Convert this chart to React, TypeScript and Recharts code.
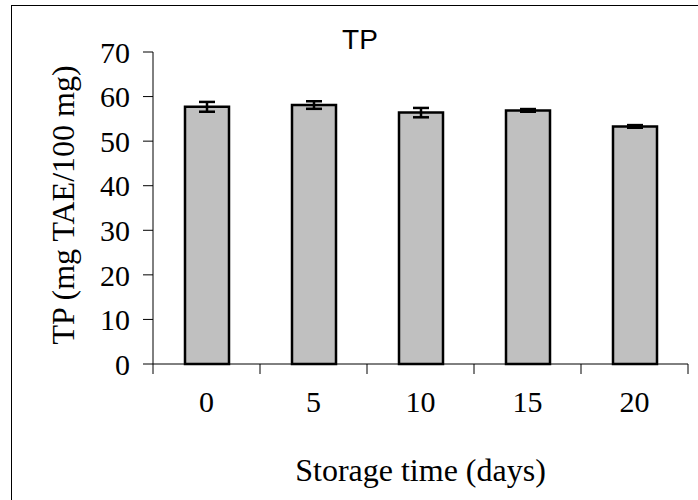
// TP bar chart - storage time vs total phenolics, with SD error bars
import { BarChart, Bar, XAxis, YAxis, ErrorBar } from 'recharts'

const days = ['0', '5', '10', '15', '20']
const tpMeans = [57.7, 58.1, 56.4, 56.9, 53.3]
const tpErrors = [1.1, 0.85, 1.05, 0.3, 0.3]
const yTicks = [0, 10, 20, 30, 40, 50, 60, 70]

const data = days.map((d, i) => ({ day: d, tp: tpMeans[i], err: tpErrors[i] }))

const serif = '"Liberation Serif", "Times New Roman", serif'
const sans = '"Liberation Sans", Arial, sans-serif'

// category tick: label in the middle of the band, tick marks on the band edges (Excel style)
function DayTick(props: any) {
  const { x, y, payload, index, width, visibleTicksCount } = props
  const half = payload.offset || width / visibleTicksCount / 2
  const top = y - 17
  return (
    <g>
      <line x1={x - half} y1={top - 10} x2={x - half} y2={top} stroke="#000" strokeWidth={1} />
      {index === visibleTicksCount - 1 && (
        <line x1={x + half} y1={top - 10} x2={x + half} y2={top} stroke="#000" strokeWidth={1} />
      )}
      <text x={x} y={y} dy="0.71em" textAnchor="middle" fontSize={30} fontFamily={serif} fill="#000">
        {payload.value}
      </text>
    </g>
  )
}

export default function App() {
  return (
    <div style={{ position: 'absolute', left: 0, top: 0, width: 698, height: 500, overflow: 'hidden', background: '#fff' }}>
      <div style={{ position: 'absolute', left: 11, top: 5, width: 720, height: 540, border: '1.5px solid #000' }} />
      <BarChart width={698} height={500} data={data} margin={{ top: 52, right: 10, bottom: 0, left: 0 }}>
        <XAxis
          dataKey="day"
          height={136}
          tickLine={false}
          tickSize={10}
          tickMargin={17}
          axisLine={{ stroke: '#000', strokeWidth: 1 }}
          tick={<DayTick />}
          interval={0}
          label={(p: any) => {
            const vb = p.viewBox
            return (
              <text x={vb.x + vb.width / 2} y={481} textAnchor="middle" fontSize={32} fontFamily={serif} fill="#000">
                Storage time (days)
              </text>
            )
          }}
        />
        <YAxis
          width={153}
          domain={[0, 70]}
          ticks={yTicks}
          interval={0}
          tickSize={10}
          tickMargin={13}
          axisLine={{ stroke: '#000', strokeWidth: 1 }}
          tickLine={{ stroke: '#000', strokeWidth: 1 }}
          tick={{ fontSize: 30, fontFamily: serif, fill: '#000' }}
          label={(p: any) => {
            const vb = p.viewBox
            const cy = vb.y + vb.height / 2 - 3
            return (
              <text x={74} y={cy} transform={`rotate(-90 74 ${cy})`} textAnchor="middle" fontSize={32} fontFamily={serif} fill="#000">
                TP (mg TAE/100 mg)
              </text>
            )
          }}
        />
        <Bar dataKey="tp" fill="#c0c0c0" stroke="#000" strokeWidth={2.5} barSize={44} isAnimationActive={false}>
          <ErrorBar dataKey="err" direction="y" width={8} stroke="#000" strokeWidth={2.5} isAnimationActive={false} />
        </Bar>
      </BarChart>
      <svg width={698} height={500} style={{ position: 'absolute', left: 0, top: 0, pointerEvents: 'none' }}>
        <text x={360} y={49} textAnchor="middle" fontSize={28} fontFamily={sans} fill="#000">TP</text>
      </svg>
    </div>
  )
}
